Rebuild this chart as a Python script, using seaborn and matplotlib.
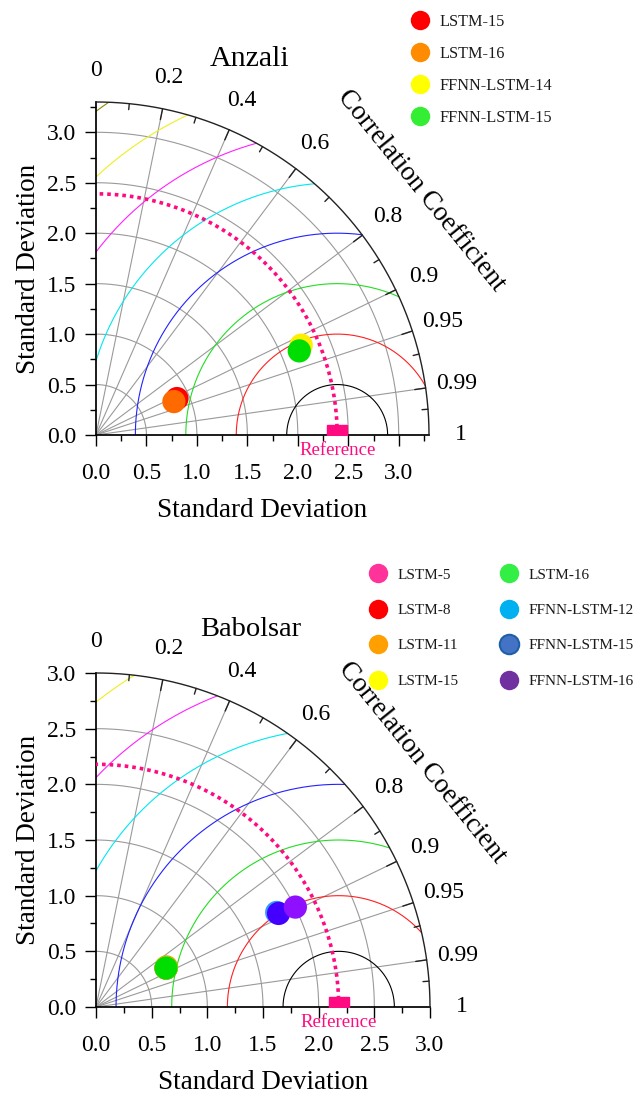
"""
Taylor diagrams - Anzali and Babolsar
"""

import numpy as np
import pandas as pd
import matplotlib
matplotlib.use("Agg")
import matplotlib.pyplot as plt
from matplotlib.lines import Line2D
from matplotlib.ticker import FormatStrFormatter
import seaborn as sns

# ---- Anzali ----
anzali_models = ["LSTM-15", "LSTM-16", "FFNN-LSTM-14", "FFNN-LSTM-15"]
anzali_std = [0.88, 0.84, 2.22, 2.18]
anzali_corr = [0.912, 0.919, 0.916, 0.924]
anzali_colors = ["#ff0000", "#ff6a00", "#ffee00", "#00dd00"]
anzali_legend_colors = ["#ff0000", "#ff8c00", "#ffff00", "#33ee33"]
anzali_ref_std = 2.39
anzali_max_std = 3.3

# ---- Babolsar ----
babolsar_models = ["LSTM-5", "LSTM-8", "LSTM-11", "LSTM-15",
                   "LSTM-16", "FFNN-LSTM-12", "FFNN-LSTM-15", "FFNN-LSTM-16"]
babolsar_std = [0.72, 0.72, 0.728, 0.72, 0.72, 1.832, 1.843, 2.003]
babolsar_corr = [0.874, 0.874, 0.869, 0.874, 0.874, 0.886, 0.890, 0.894]
babolsar_colors = ["#ff3399", "#ff0000", "#ff9900", "#ffff00",
                   "#00dd00", "#3399ff", "#4400ff", "#8f10ff"]
babolsar_legend_colors = ["#ff3399", "#ff0000", "#ffa000", "#ffff00",
                          "#33ee44", "#00b0f0", "#4472c4", "#7030a0"]
babolsar_ref_std = 2.18
babolsar_max_std = 3.0

# ---- diagram furniture ----
rms_levels = [0.5, 1.0, 1.5, 2.0, 2.5, 3.0, 3.5, 4.0]
rms_colors = ["black", "#ff2020", "#22dd22", "#2222ff",
              "#00e8f0", "#ff22ff", "#eeee22", "#8b8b00"]
corr_major = [0.2, 0.4, 0.6, 0.8, 0.9, 0.95, 0.99]
corr_minor = [0.1, 0.3, 0.5, 0.7, 0.85, 0.97, 0.997]
corr_labels = ["0", "0.2", "0.4", "0.6", "0.8", "0.9", "0.95", "0.99", "1"]
corr_label_vals = [0, 0.2, 0.4, 0.6, 0.8, 0.9, 0.95, 0.99, 1.0]

REF_COLOR = "#ff0a80"
GRID = "#9a9a9a"


def taylor(ax, models, std, corr, colors, ref_std, max_std):
    ax.set_xlim(0, max_std)
    ax.set_ylim(0, max_std)
    ax.set_aspect("equal")
    for s in ["top", "right"]:
        ax.spines[s].set_visible(False)

    t = np.linspace(0, np.pi / 2, 300)

    # std arcs
    for s in np.arange(0.5, max_std - 0.01, 0.5):
        ax.plot(s * np.cos(t), s * np.sin(t), color=GRID, lw=0.8, zorder=1)
    ax.plot(max_std * np.cos(t), max_std * np.sin(t), color="#222222",
            lw=1.0, clip_on=False, zorder=3)

    # correlation lines and ticks
    for c in corr_major:
        th = np.arccos(c)
        ax.plot([0, max_std * np.cos(th)], [0, max_std * np.sin(th)],
                color=GRID, lw=0.8, zorder=1)
        r0 = max_std * 0.967
        ax.plot([r0 * np.cos(th), max_std * np.cos(th)],
                [r0 * np.sin(th), max_std * np.sin(th)],
                color="#222222", lw=1.0, zorder=3)
    for c in corr_minor:
        th = np.arccos(c)
        r0 = max_std * 0.982
        ax.plot([r0 * np.cos(th), max_std * np.cos(th)],
                [r0 * np.sin(th), max_std * np.sin(th)],
                color="#222222", lw=1.0, zorder=3)
    for lab, c in zip(corr_labels, corr_label_vals):
        th = np.arccos(c)
        r = max_std * 1.095
        ax.text(r * np.cos(th), r * np.sin(th), lab, ha="center",
                va="center", fontsize=17, clip_on=False)

    # centred RMS contours
    tt = np.linspace(0, np.pi, 3000)
    for lev, col in zip(rms_levels, rms_colors):
        x = ref_std + lev * np.cos(tt)
        y = lev * np.sin(tt)
        keep = (x ** 2 + y ** 2 <= max_std ** 2) & (x >= 0)
        x = np.where(keep, x, np.nan)
        y = np.where(keep, y, np.nan)
        ax.plot(x, y, color=col, lw=0.8, zorder=2)

    # reference
    ax.plot(ref_std * np.cos(t), ref_std * np.sin(t), color=REF_COLOR,
            lw=2.6, linestyle=(0, (1, 1.1)), zorder=4)
    ax.plot(ref_std, 0, marker="s", ms=14.5, color=REF_COLOR, zorder=5)
    ax.annotate("Reference", xy=(ref_std, 0), xytext=(0, -11),
                textcoords="offset points", ha="center", va="center",
                color=REF_COLOR, fontsize=13.5, annotation_clip=False)

    # model points
    std = np.array(std)
    corr = np.array(corr)
    df = pd.DataFrame({"model": models,
                       "x": std * corr,
                       "y": std * np.sqrt(1 - corr ** 2)})
    sns.scatterplot(data=df, x="x", y="y", hue="model",
                    palette=dict(zip(models, colors)), s=280,
                    edgecolor="none", legend=False, ax=ax, zorder=6,
                    clip_on=False)

    # axes ticks
    ax.set_xticks(np.arange(0, max_std + 0.01, 0.5))
    ax.set_yticks(np.arange(0, max_std + 0.01, 0.5))
    ax.set_xticks(np.arange(0, max_std + 0.01, 0.25), minor=True)
    ax.set_yticks(np.arange(0, max_std + 0.01, 0.25), minor=True)
    ax.xaxis.set_major_formatter(FormatStrFormatter("%.1f"))
    ax.yaxis.set_major_formatter(FormatStrFormatter("%.1f"))
    ax.tick_params(axis="x", which="major", length=8, width=1,
                   direction="out", labelsize=17, pad=12)
    ax.tick_params(axis="y", which="major", length=8, width=1,
                   direction="out", labelsize=17, pad=6)
    ax.tick_params(which="minor", length=4, width=1, direction="out")
    ax.set_xlabel("Standard Deviation", fontsize=19.5, labelpad=10)
    ax.set_ylabel("Standard Deviation", fontsize=19.5, labelpad=4.5)

    th = np.deg2rad(36.9)
    r = max_std * 1.22
    ax.text(r * np.cos(th), r * np.sin(th), "Correlation Coefficient",
            rotation=-51, ha="center", va="center", fontsize=19.5,
            rotation_mode="anchor", clip_on=False)


def main():
    sns.set_theme(style="ticks")
    plt.rcParams["font.family"] = ["Liberation Serif", "DejaVu Serif"]
    plt.rcParams["axes.edgecolor"] = "black"
    plt.rcParams["xtick.color"] = "black"
    plt.rcParams["ytick.color"] = "black"
    plt.rcParams["text.color"] = "black"
    plt.rcParams["axes.labelcolor"] = "black"

    W, H = 644, 1094
    fig = plt.figure(figsize=(6.44, 10.94), dpi=100)

    ax1 = fig.add_axes([96 / W, 1 - 435 / H, 333 / W, 333 / H])
    taylor(ax1, anzali_models, anzali_std, anzali_corr, anzali_colors,
           anzali_ref_std, anzali_max_std)
    fig.text(250 / W, 1 - 59 / H, "Anzali", ha="center", va="center",
             fontsize=21.5)

    ax2 = fig.add_axes([96 / W, 1 - 1007 / H, 334 / W, 334 / H])
    taylor(ax2, babolsar_models, babolsar_std, babolsar_corr,
           babolsar_colors, babolsar_ref_std, babolsar_max_std)
    fig.text(251 / W, 1 - 629 / H, "Babolsar", ha="center", va="center",
             fontsize=20.5)

    # legends
    h1 = [Line2D([], [], marker="o", ls="none", ms=14, color=c,
                 markeredgecolor="none") for c in anzali_legend_colors]
    fig.legend(h1, anzali_models, loc="upper left",
               bbox_to_anchor=(412 / W, 1 - 14 / H), frameon=False,
               fontsize=11.7, handlelength=1.0, handletextpad=0.72,
               labelspacing=0.98, borderpad=0, borderaxespad=0,
               labelcolor="#1a1a1a")

    h2 = []
    for m, c in zip(babolsar_models, babolsar_legend_colors):
        edge = "#1f5fa8" if m == "FFNN-LSTM-15" else "none"
        h2.append(Line2D([], [], marker="o", ls="none", ms=14, color=c,
                         markeredgecolor=edge, markeredgewidth=1.5))
    fig.legend(h2, babolsar_models, loc="upper left", ncol=2,
               bbox_to_anchor=(370 / W, 1 - 568 / H), frameon=False,
               fontsize=11, handlelength=1.0, handletextpad=0.8,
               labelspacing=1.42, columnspacing=2.77, borderpad=0,
               borderaxespad=0, labelcolor="#1a1a1a")

    fig.savefig("out.png", dpi=100)


if __name__ == "__main__":
    main()
